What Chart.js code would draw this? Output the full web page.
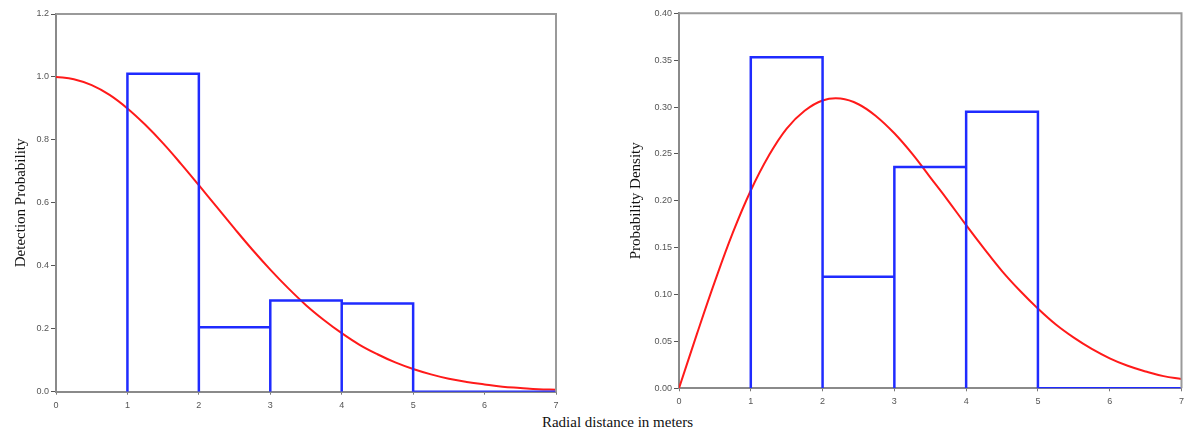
<!DOCTYPE html>
<html>
<head>
<meta charset="utf-8">
<script src="https://cdn.jsdelivr.net/npm/chart.js@4"></script>
<style>
  html, body { margin: 0; padding: 0; background: #fff; }
  body { width: 1189px; height: 434px; position: relative; overflow: hidden; }
  .box { position: absolute; top: 0; height: 410px; }
  #leftBox { left: 0; width: 575px; }
  #rightBox { left: 600px; width: 589px; }
  #xTitle {
    position: absolute; left: 0; width: 1235px; top: 414px;
    text-align: center; font-family: "Liberation Serif", "Times New Roman", serif;
    font-size: 15px; color: #111;
  }
</style>
</head>
<body>
<div class="box" id="leftBox"><canvas id="detectChart"></canvas></div>
<div class="box" id="rightBox"><canvas id="densityChart"></canvas></div>
<div id="xTitle">Radial distance in meters</div>

<script>
// Histogram bins (edges in meters)
const binEdges = [1, 2, 3, 4, 5, 6, 7];

// Observed heights per bin
const detectBars = [1.01, 0.205, 0.29, 0.28, 0, 0];
const densityBars = [0.353, 0.119, 0.236, 0.295, 0, 0];

// Fitted curves, every 0.25 m
const curveR = [0, 0.25, 0.5, 0.75, 1, 1.25, 1.5, 1.75, 2, 2.25, 2.5, 2.75, 3, 3.25, 3.5,
  3.75, 4, 4.25, 4.5, 4.75, 5, 5.25, 5.5, 5.75, 6, 6.25, 6.5, 6.75, 7];
const detectCurve = [1, 0.993, 0.974, 0.943, 0.900, 0.848, 0.789, 0.724, 0.656, 0.587, 0.518,
  0.451, 0.388, 0.329, 0.275, 0.228, 0.186, 0.149, 0.119, 0.093, 0.072, 0.055, 0.041,
  0.031, 0.023, 0.016, 0.012, 0.008, 0.006];
const densityCurve = [0, 0.058, 0.114, 0.166, 0.211, 0.248, 0.277, 0.296, 0.307, 0.309, 0.303,
  0.290, 0.272, 0.250, 0.225, 0.200, 0.174, 0.149, 0.125, 0.104, 0.085, 0.068, 0.054,
  0.042, 0.032, 0.024, 0.018, 0.013, 0.010];

// Tick labels
const xTicks = [0, 1, 2, 3, 4, 5, 6, 7];
const detectTicks = ['0.0', '0.2', '0.4', '0.6', '0.8', '1.0', '1.2'];
const densityTicks = ['0.00', '0.05', '0.10', '0.15', '0.20', '0.25', '0.30', '0.35', '0.40'];

// outline of the histogram, one rectangle after another
function histogramPath(heights) {
  const pts = [];
  heights.forEach((h, i) => {
    const a = binEdges[i], b = binEdges[i + 1];
    if (h > 0) {
      pts.push({ x: a, y: 0 }, { x: a, y: h }, { x: b, y: h }, { x: b, y: 0 });
    } else {
      pts.push({ x: a, y: 0 }, { x: b, y: 0 });
    }
  });
  return pts;
}

// gray frame round the plot area
const framePlugin = {
  id: 'frame',
  afterDraw(chart) {
    const a = chart.chartArea;
    const ctx = chart.ctx;
    ctx.save();
    ctx.strokeStyle = '#9a9a9a';
    ctx.lineWidth = 2;
    ctx.beginPath();
    ctx.moveTo(a.left, a.top);
    ctx.lineTo(a.right, a.top);
    ctx.lineTo(a.right, a.bottom);
    ctx.stroke();
    ctx.restore();
  }
};

const tickFont = { family: 'Liberation Sans, Arial, sans-serif', size: 9 };

function makeChart(canvasId, opts) {
  const ctx = document.getElementById(canvasId).getContext('2d');
  return new Chart(ctx, {
    type: 'line',
    data: {
      datasets: [
        {
          data: histogramPath(opts.bars),
          borderColor: '#1f2bff',
          borderWidth: 2.5,
          pointRadius: 0,
          tension: 0,
          fill: false
        },
        {
          data: curveR.map((r, i) => ({ x: r, y: opts.curve[i] })),
          borderColor: '#ff1a1a',
          borderWidth: 2,
          pointRadius: 0,
          tension: 0.4,
          fill: false
        }
      ]
    },
    options: {
      responsive: true,
      maintainAspectRatio: false,
      animation: false,
      events: [],
      layout: { padding: opts.padding },
      plugins: { legend: { display: false }, tooltip: { enabled: false } },
      scales: {
        x: {
          type: 'linear',
          min: 0,
          max: 7,
          afterBuildTicks: s => { s.ticks = xTicks.map(v => ({ value: v })); },
          afterFit: s => { s.height = opts.xHeight; },
          ticks: { font: tickFont, color: '#555', padding: 5, maxRotation: 0,
            callback: v => String(v) },
          grid: { drawOnChartArea: false, drawTicks: true, tickLength: 3, color: '#777' },
          border: { color: '#8a8a8a', width: 2 }
        },
        y: {
          type: 'linear',
          min: 0,
          max: opts.yMax,
          afterBuildTicks: s => {
            s.ticks = opts.yTicks.map(t => ({ value: parseFloat(t), label: t }));
          },
          afterFit: s => { s.width = opts.yWidth; },
          ticks: { font: tickFont, color: '#555', padding: 2,
            callback: (v, i) => opts.yTicks[i] },
          grid: { drawOnChartArea: false, drawTicks: true, tickLength: 5, color: '#555' },
          border: { color: '#8a8a8a', width: 2 },
          title: {
            display: true,
            text: opts.yTitle,
            color: '#111',
            font: { family: 'Liberation Serif, Times New Roman, serif', size: 15 },
            padding: { top: opts.titlePad, bottom: 0 }
          }
        }
      }
    },
    plugins: [framePlugin]
  });
}

makeChart('detectChart', {
  bars: detectBars,
  curve: detectCurve,
  yMax: 1.2,
  yTicks: detectTicks,
  yTitle: 'Detection Probability',
  yWidth: 56,
  xHeight: 18.3,
  titlePad: 12,
  padding: { left: 0, right: 19, top: 14, bottom: 0 }
});

makeChart('densityChart', {
  bars: densityBars,
  curve: densityCurve,
  yMax: 0.4,
  yTicks: densityTicks,
  yTitle: 'Probability Density',
  yWidth: 79,
  xHeight: 21.7,
  titlePad: 27,
  padding: { left: 0, right: 7, top: 13.3, bottom: 0 }
});
</script>
</body>
</html>
